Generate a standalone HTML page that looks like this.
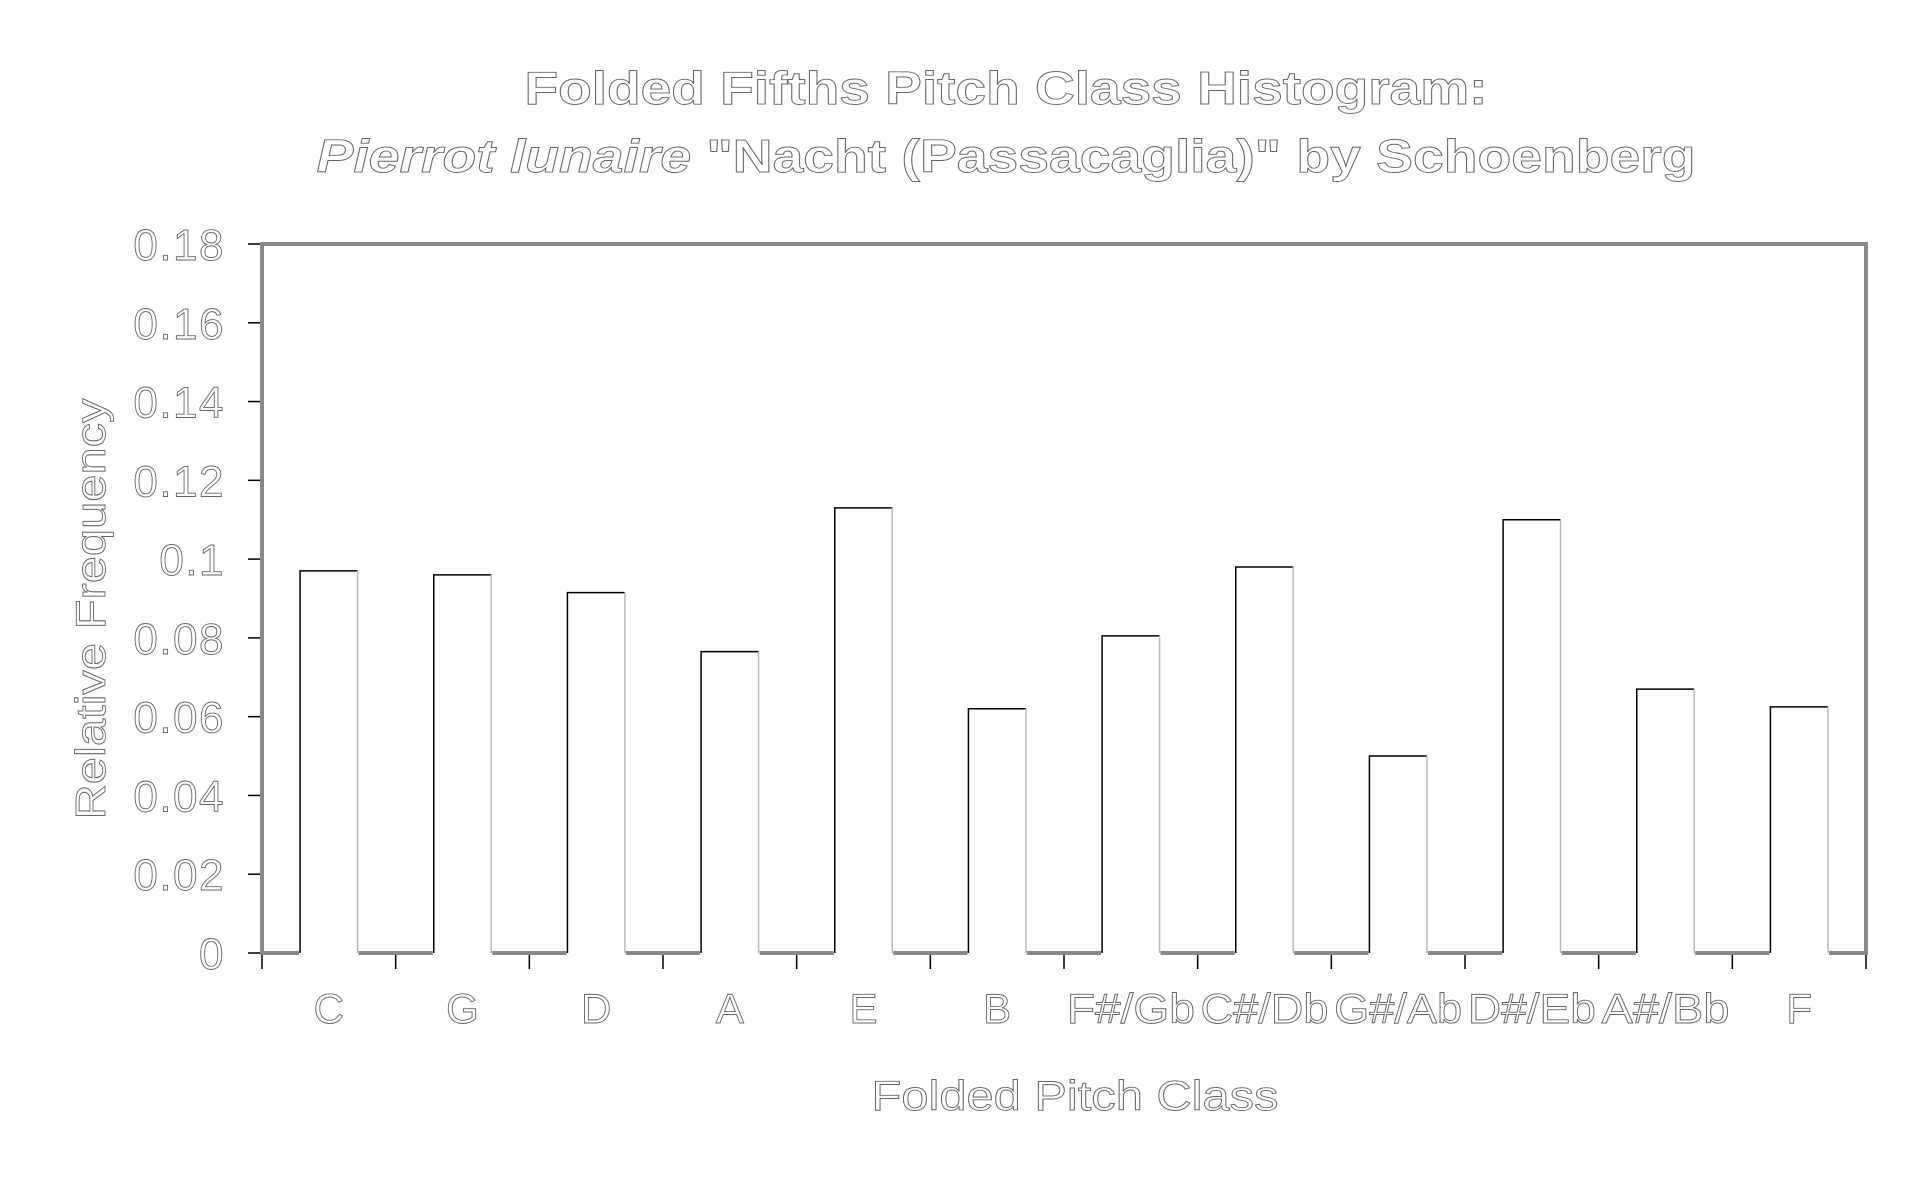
<!DOCTYPE html>
<html><head><meta charset="utf-8"><style>
html,body{margin:0;padding:0;background:#fff;}
svg{display:block;}
text{font-family:"Liberation Sans",sans-serif;fill:#fff;stroke:#666;stroke-width:0.9;}
</style></head><body>
<svg id="chart" width="1913" height="1190" viewBox="0 0 1913 1190" xmlns="http://www.w3.org/2000/svg">
<text x="1006" y="104" text-anchor="middle" font-size="46" font-weight="bold" textLength="963" lengthAdjust="spacingAndGlyphs">Folded Fifths Pitch Class Histogram:</text>
<text x="1006" y="172" text-anchor="middle" font-size="46" font-weight="bold" textLength="1379" lengthAdjust="spacingAndGlyphs"><tspan font-style="italic">Pierrot lunaire</tspan> "Nacht (Passacaglia)" by Schoenberg</text>
<text transform="translate(105,609) rotate(-90)" text-anchor="middle" font-size="42" textLength="421" lengthAdjust="spacingAndGlyphs">Relative Frequency</text>
<text x="1075" y="1110" text-anchor="middle" font-size="42" textLength="407" lengthAdjust="spacingAndGlyphs">Folded Pitch Class</text>
<g id="plot"></g>
</svg>
<script>
const categories = ["C","G","D","A","E","B","F#/Gb","C#/Db","G#/Ab","D#/Eb","A#/Bb","F"];
const values = [0.097,0.096,0.0915,0.0765,0.113,0.062,0.0805,0.098,0.050,0.110,0.067,0.0625];
const yTicks = [0,0.02,0.04,0.06,0.08,0.1,0.12,0.14,0.16,0.18];
const yTickLabels = ["0","0.02","0.04","0.06","0.08","0.1","0.12","0.14","0.16","0.18"];

const L=262, R=1866, T=244, B=953, YMAX=0.18;
const slot=(R-L)/categories.length, bw=slot*0.43;
const y = v => B - v/YMAX*(B-T);
const xc = i => L + slot*(i+0.5);
const NS="http://www.w3.org/2000/svg";
const g=document.getElementById('plot');
function mk(tag,attrs){const e=document.createElementNS(NS,tag);for(const k in attrs)e.setAttribute(k,attrs[k]);g.appendChild(e);return e;}

let f=mk('rect',{x:L,y:T,width:R-L,height:B-T,fill:'none',stroke:'#888',"stroke-width":4});



yTicks.forEach((t,i)=>{
  const ln=mk('line',{x1:L-14,x2:L-2,y1:y(t),y2:y(t),stroke:'#000',"stroke-width":1.5});
  
  
  const tx=mk('text',{x:225,y:y(t)+16,"text-anchor":"end","font-size":44,"letter-spacing":1.5});
  tx.textContent=yTickLabels[i];
  
  
});

for(let i=0;i<=categories.length;i++){
  const x=L+slot*i;
  const ln=mk('line',{x1:x,x2:x,y1:B+2,y2:B+16,stroke:'#000',"stroke-width":1.5});
  
  
}

values.forEach((v,i)=>{
  const x0=xc(i)-bw/2, yt=y(v);
  const bg=mk('rect',{x:x0-1,y:yt,width:bw+2,height:B-yt+3,fill:'#fff',stroke:'none'});
  
  
  const p=mk('path',{d:`M${x0},${B} L${x0},${yt} L${x0+bw},${yt}`,fill:'none',stroke:'#000',"stroke-width":1.5});
  
  
  const r=mk('line',{x1:x0+bw,x2:x0+bw,y1:yt,y2:B,stroke:'#bbb',"stroke-width":1.5});
  
  
  const lab=mk('text',{x:xc(i),y:1023,"text-anchor":"middle","font-size":42});
  if(categories[i].length>2){lab.setAttribute('textLength',128);lab.setAttribute('lengthAdjust','spacingAndGlyphs');}
  lab.textContent=categories[i];
  
  
});
</script>
</body></html>
